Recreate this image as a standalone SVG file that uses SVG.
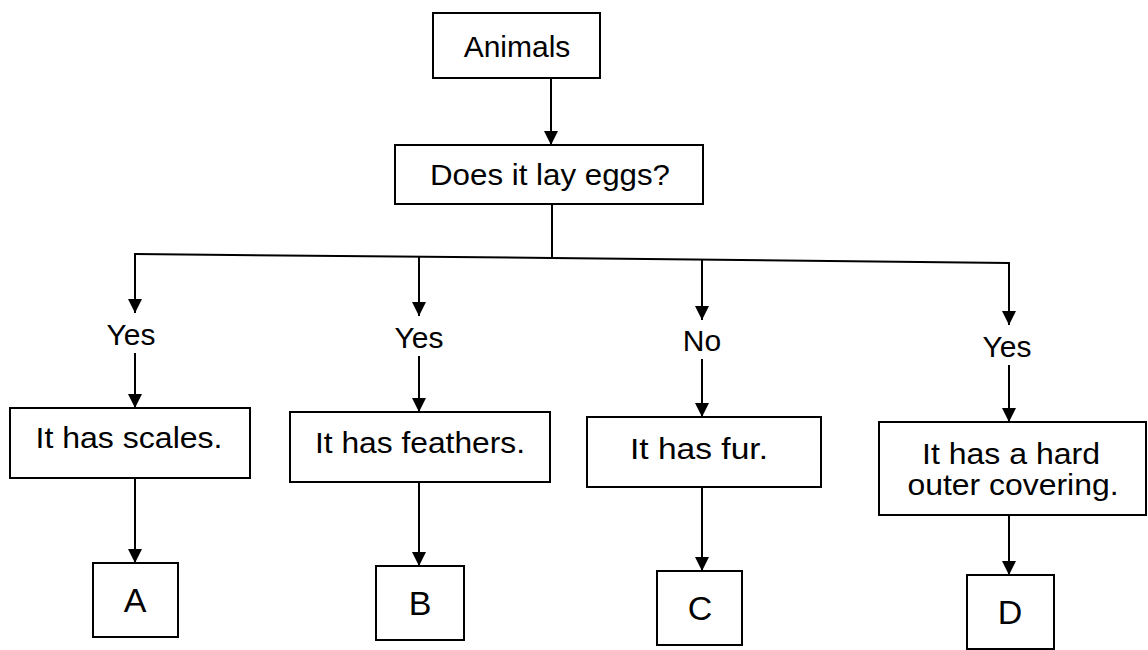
<svg xmlns="http://www.w3.org/2000/svg" width="1148" height="650" viewBox="0 0 1148 650">
<style>
.box{fill:#fff;stroke:#000;stroke-width:2}
.t{font-family:"Liberation Sans",Arial,sans-serif;font-size:30px;fill:#000;text-anchor:middle}
.L{font-family:"Liberation Sans",Arial,sans-serif;font-size:34px;fill:#000;text-anchor:middle}
.c{fill:none;stroke:#000;stroke-width:2}
</style>
<defs>
<marker id="ah" markerUnits="userSpaceOnUse" markerWidth="14" markerHeight="14" refX="14" refY="7" orient="auto">
<path d="M0,0 L14,7 L0,14 z" fill="#000"/>
</marker>
</defs>
<rect width="1148" height="650" fill="#fff"/>
<g id="connectors">
<line class="c" x1="551" y1="78" x2="551" y2="145" marker-end="url(#ah)"/>
<line class="c" x1="552" y1="204" x2="552" y2="258"/>
<polyline class="c" points="135,254 552,258 1009,263"/>
<line class="c" x1="135" y1="253" x2="135" y2="313" marker-end="url(#ah)"/>
<line class="c" x1="419" y1="257" x2="419" y2="316" marker-end="url(#ah)"/>
<line class="c" x1="702" y1="260" x2="702" y2="320" marker-end="url(#ah)"/>
<line class="c" x1="1009" y1="262" x2="1009" y2="325" marker-end="url(#ah)"/>
<line class="c" x1="135" y1="353" x2="135" y2="408" marker-end="url(#ah)"/>
<line class="c" x1="419" y1="356" x2="419" y2="412" marker-end="url(#ah)"/>
<line class="c" x1="702" y1="359" x2="702" y2="417" marker-end="url(#ah)"/>
<line class="c" x1="1009" y1="365" x2="1009" y2="422" marker-end="url(#ah)"/>
<line class="c" x1="135" y1="478" x2="135" y2="563" marker-end="url(#ah)"/>
<line class="c" x1="419" y1="482" x2="419" y2="566" marker-end="url(#ah)"/>
<line class="c" x1="702" y1="487" x2="702" y2="571" marker-end="url(#ah)"/>
<line class="c" x1="1009" y1="515" x2="1009" y2="575" marker-end="url(#ah)"/>
</g>
<g id="labels">
<text class="t" x="131" y="345">Yes</text>
<text class="t" x="419" y="348">Yes</text>
<text class="t" x="702" y="351">No</text>
<text class="t" x="1007" y="357">Yes</text>
</g>
<g id="animals">
<rect class="box" x="433" y="13" width="167" height="65"/>
<text class="t" x="517" y="57">Animals</text>
</g>
<g id="eggs">
<rect class="box" x="395" y="145" width="308" height="59"/>
<text class="t" x="550" y="185" textLength="240" lengthAdjust="spacingAndGlyphs">Does it lay eggs?</text>
</g>
<g id="scales">
<rect class="box" x="10" y="408" width="240" height="70"/>
<text class="t" x="129" y="448" textLength="187" lengthAdjust="spacingAndGlyphs">It has scales.</text>
</g>
<g id="feathers">
<rect class="box" x="290" y="412" width="260" height="70"/>
<text class="t" x="420" y="453" textLength="210" lengthAdjust="spacingAndGlyphs">It has feathers.</text>
</g>
<g id="fur">
<rect class="box" x="587" y="417" width="234" height="70"/>
<text class="t" x="699" y="459" textLength="138" lengthAdjust="spacingAndGlyphs">It has fur.</text>
</g>
<g id="hard">
<rect class="box" x="879" y="422" width="267" height="93"/>
<text class="t" x="1011" y="464" textLength="178" lengthAdjust="spacingAndGlyphs">It has a hard</text>
<text class="t" x="1013" y="495" textLength="211" lengthAdjust="spacingAndGlyphs">outer covering.</text>
</g>
<g id="A">
<rect class="box" x="93" y="563" width="85" height="74"/>
<text class="L" x="135" y="612">A</text>
</g>
<g id="B">
<rect class="box" x="376" y="566" width="88" height="74"/>
<text class="L" x="420" y="615">B</text>
</g>
<g id="C">
<rect class="box" x="657" y="571" width="85" height="74"/>
<text class="L" x="700" y="620">C</text>
</g>
<g id="D">
<rect class="box" x="967" y="575" width="87" height="74"/>
<text class="L" x="1010" y="624">D</text>
</g>
</svg>
